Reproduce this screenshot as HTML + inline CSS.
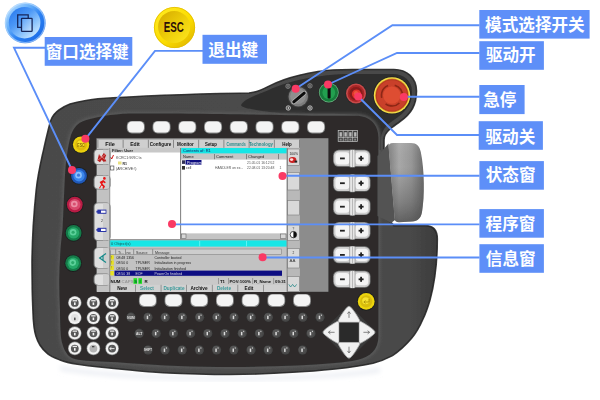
<!DOCTYPE html>
<html><head><meta charset="utf-8"><title>KCP</title>
<style>
html,body{margin:0;padding:0;background:#fff;}
body{width:600px;height:400px;overflow:hidden;font-family:"Liberation Sans",sans-serif;}
svg{display:block;position:absolute;left:0;top:0;}
svg text{font-family:"Liberation Sans",sans-serif;}
svg text.cjk{font-family:"Liberation Sans","Noto Sans CJK SC",sans-serif;font-weight:bold;}
</style></head><body>
<svg width="600" height="400" viewBox="0 0 600 400">
<defs>
<linearGradient id="bodyg" x1="0" y1="0" x2="1" y2="0">
 <stop offset="0" stop-color="#404040"/><stop offset="0.025" stop-color="#4a4a4a"/><stop offset="0.5" stop-color="#4b4b4b"/><stop offset="0.93" stop-color="#494949"/><stop offset="1" stop-color="#3c3c3c"/>
</linearGradient>
<linearGradient id="mouseg" x1="0" y1="0" x2="1" y2="0">
 <stop offset="0" stop-color="#808080"/><stop offset="0.3" stop-color="#a8a8a8"/><stop offset="0.65" stop-color="#979797"/><stop offset="1" stop-color="#6a6a6a"/>
</linearGradient>
<radialGradient id="blueic" cx="0.5" cy="0.55" r="0.55">
 <stop offset="0" stop-color="#bfe2ff"/><stop offset="0.55" stop-color="#6fb4f6"/><stop offset="0.8" stop-color="#2f86ee"/><stop offset="1" stop-color="#1c6fe0"/>
</radialGradient>
<linearGradient id="goldo" x1="0.15" y1="0.1" x2="0.85" y2="0.9">
 <stop offset="0" stop-color="#ffe81c"/><stop offset="0.6" stop-color="#fbdc00"/><stop offset="1" stop-color="#e4bc00"/>
</linearGradient>
<linearGradient id="goldi" x1="0" y1="0" x2="1" y2="1">
 <stop offset="0" stop-color="#d4a800"/><stop offset="0.5" stop-color="#eccc08"/><stop offset="1" stop-color="#ffe820"/>
</linearGradient>
<radialGradient id="keyw" cx="0.5" cy="0.4" r="0.7">
 <stop offset="0" stop-color="#ffffff"/><stop offset="0.7" stop-color="#efefef"/><stop offset="1" stop-color="#bdbdbd"/>
</radialGradient>
<linearGradient id="mousesh" x1="0" y1="0" x2="0" y2="1"><stop offset="0" stop-color="#fff" stop-opacity="0.06"/><stop offset="0.3" stop-color="#555" stop-opacity="0"/><stop offset="0.75" stop-color="#4a4a4a" stop-opacity="0.4"/><stop offset="1" stop-color="#444" stop-opacity="0.7"/></linearGradient>
<filter id="blur1b" x="-5%" y="-5%" width="110%" height="110%"><feGaussianBlur stdDeviation="1.6"/></filter>
<linearGradient id="bic1" x1="0.1" y1="0.1" x2="0.9" y2="0.9"><stop offset="0" stop-color="#b4dcff"/><stop offset="0.3" stop-color="#6ab2fa"/><stop offset="0.6" stop-color="#2a80f2"/><stop offset="1" stop-color="#1c6ae6"/></linearGradient>
<linearGradient id="bic2" x1="0.15" y1="0.1" x2="0.85" y2="0.9"><stop offset="0" stop-color="#2f7ff0"/><stop offset="0.35" stop-color="#4c98f6"/><stop offset="0.7" stop-color="#8cc4fc"/><stop offset="1" stop-color="#c8e6ff"/></linearGradient>
<linearGradient id="bic3" x1="0" y1="0" x2="1" y2="1"><stop offset="0" stop-color="#5aa2f8"/><stop offset="1" stop-color="#c4e2ff"/></linearGradient>
<filter id="soft" x="0" y="0" width="600" height="400" filterUnits="userSpaceOnUse"><feGaussianBlur stdDeviation="0.45"/></filter>
<filter id="blur1"><feGaussianBlur stdDeviation="0.6"/></filter>
<filter id="blur2"><feGaussianBlur stdDeviation="2.5"/></filter>
</defs>
<g filter="url(#soft)">
<path d="M60,366 C120,378 300,382 380,368 L380,372 C300,385 120,382 60,370 Z" fill="#e9ecf2" filter="url(#blur2)"/>
<path d="M32,262 C32.2,242 33.5,216 36.2,190 C37.5,178 39.5,168 42.4,155 C44,148 45.5,141 47,135 C48.5,129 49.5,124 51,120 C53,115 55.5,112.5 59,110 C62.5,107.5 66,105.5 70,104 C75,102.5 80,101.5 86,100.5 C90,99.8 94,99.2 98,98.8 C140,95.8 190,94 240,93.2 L249,93 C256,92.4 262,89.8 268,86.6 C274,83.6 279,81.6 284,79.8 C294,76.2 305,73.6 318,71.5 C330,69.5 340,69.5 352,69.5 L394,69.5 C407,69.5 416.5,78 416.5,91 C416.5,99 415,104 412.5,108.5 C409.5,114 405,118 400,121.5 C396,124.5 392,127 389.5,129.5 C385.5,133 384,136 384,140 L384,218 L391,222.4 L394,225.6 L425,225.6 C433,225.6 437.3,230 437.3,239 C437.3,257 436,278 430,300 C427,310 425,315 423,319 C420,326 416,333 411.6,338.3 C405,346 398,352 392.5,355.6 C386,359 380,361.5 373,363.2 C360,366 348,367.5 335,369 C320,370.5 308,371.5 297,372 C275,373.5 252,374.5 230,374.5 C205,374.5 185,373.8 163,372.7 C150,372 140,371 130,370 C118,369 108,368 97,366.8 C90,366 84,365.2 77.5,364.3 C71,363.3 65,362 60,360 C55,358 51,356.5 47.8,353.8 C44.5,351 42,348.5 39.9,345 C38,342 37,339.5 35.9,336 C35,333 34.5,330.5 34.1,327.5 C33.3,321 33,316 32.9,310 C32.5,300 32.2,293 32.2,285 C32.1,277 32,270 32,262 Z" fill="url(#bodyg)"/>
<path d="M32,262 C32.2,242 33.5,216 36.2,190 C37.5,178 39.5,168 42.4,155 C44,148 45.5,141 47,135 C48.5,129 49.5,124 51,120 C53,115 55.5,112.5 59,110 C62.5,107.5 66,105.5 70,104 C75,102.5 80,101.5 86,100.5 C90,99.8 94,99.2 98,98.8 C140,95.8 190,94 240,93.2 L249,93 C256,92.4 262,89.8 268,86.6 C274,83.6 279,81.6 284,79.8 C294,76.2 305,73.6 318,71.5 C330,69.5 340,69.5 352,69.5 L394,69.5 C407,69.5 416.5,78 416.5,91 C416.5,99 415,104 412.5,108.5 C409.5,114 405,118 400,121.5 C396,124.5 392,127 389.5,129.5 C385.5,133 384,136 384,140 L384,218 L391,222.4 L394,225.6 L425,225.6 C433,225.6 437.3,230 437.3,239 C437.3,257 436,278 430,300 C427,310 425,315 423,319 C420,326 416,333 411.6,338.3 C405,346 398,352 392.5,355.6 C386,359 380,361.5 373,363.2 C360,366 348,367.5 335,369 C320,370.5 308,371.5 297,372 C275,373.5 252,374.5 230,374.5 C205,374.5 185,373.8 163,372.7 C150,372 140,371 130,370 C118,369 108,368 97,366.8 C90,366 84,365.2 77.5,364.3 C71,363.3 65,362 60,360 C55,358 51,356.5 47.8,353.8 C44.5,351 42,348.5 39.9,345 C38,342 37,339.5 35.9,336 C35,333 34.5,330.5 34.1,327.5 C33.3,321 33,316 32.9,310 C32.5,300 32.2,293 32.2,285 C32.1,277 32,270 32,262 Z" fill="none" stroke="#262626" stroke-width="1.6" opacity="0.9"/>
<path d="M241,105.3 C242,102.5 246,99.5 255,95.6 C260,93.4 264,91.8 268.3,90.2 C273,88 277,86.4 281.7,84.8 C292,81 304,78.4 318,76.5 C330,74.5 340,74 352,74 L393,74 C404,74 412,81 412,91 C412,98 411,102 409,105.5 C406,110.5 402,114 398,117 C394,120 390,122.5 387,125.5 C383,129.5 381,134 381,140 L381,150 L379,150 C379,132 372,120 352,114.8 C340,113.6 330,113.8 320,113.8 C306,113.8 294,113.8 282,113.2 C276,112.8 272,112.4 268,111.8 C262,111 258,110.4 255,109.8 C248,108.6 242,107.6 241,105.3 Z" fill="#2f2f2f"/>
<path d="M59.2,280 C59.5,262 60.5,245 62.5,230 C63.3,215 64,195 65,175 C65.5,168 66,161 67,155 C68,148 69.2,141 71,135 C72.5,130.5 74.5,127.5 77,125 C80.5,121.8 85,120 90,119 C96,117.5 102,116.4 105,115.8 C112,114.8 120,114 130,113.6 C170,113.2 210,113.8 240,114.3 C270,114.8 300,115.4 320,115.8 L356,115.8 C370,115.8 378.4,124.6 378.4,137.6 L378.4,336 C378.4,350 370,357 358,359.8 C350,361.5 343,362.4 335,363 C322,364.2 310,365 297,365.5 C275,366.5 252,367 230,367 C195,367 160,365.6 130,363.2 C112,362 98,361.4 86.3,360.8 C80,360.2 75.5,359.6 72,358 C69.6,356.8 68,355.4 67,353.8 C64.8,350.8 63.6,348 62.7,345 C61.6,341.6 61.2,339 60.9,336 C60.2,327 60,318 60,310 C59.5,300 59.2,290 59.2,280 Z" fill="none" stroke="#585858" stroke-width="4" filter="url(#blur1b)"/>
<path d="M59.2,280 C59.5,262 60.5,245 62.5,230 C63.3,215 64,195 65,175 C65.5,168 66,161 67,155 C68,148 69.2,141 71,135 C72.5,130.5 74.5,127.5 77,125 C80.5,121.8 85,120 90,119 C96,117.5 102,116.4 105,115.8 C112,114.8 120,114 130,113.6 C170,113.2 210,113.8 240,114.3 C270,114.8 300,115.4 320,115.8 L356,115.8 C370,115.8 378.4,124.6 378.4,137.6 L378.4,336 C378.4,350 370,357 358,359.8 C350,361.5 343,362.4 335,363 C322,364.2 310,365 297,365.5 C275,366.5 252,367 230,367 C195,367 160,365.6 130,363.2 C112,362 98,361.4 86.3,360.8 C80,360.2 75.5,359.6 72,358 C69.6,356.8 68,355.4 67,353.8 C64.8,350.8 63.6,348 62.7,345 C61.6,341.6 61.2,339 60.9,336 C60.2,327 60,318 60,310 C59.5,300 59.2,290 59.2,280 Z" fill="#2d2c2c"/>
<path d="M377.5,156 L388.5,143.5 L395,220 L391,223 L377.5,216 Z" fill="#525252"/>
<path d="M388.5,147 C388.5,144.5 390,143 393,143 L411,143 C416.5,143 419.5,146 420.8,152 C424.5,170 424.8,196 422,212 C421,218 418,221 412,221.6 L399,222.2 C396,222.2 394.9,221 394.6,218.5 Z" fill="url(#mouseg)"/>
<path d="M388.5,147 C388.5,144.5 390,143 393,143 L411,143 C416.5,143 419.5,146 420.8,152 C424.5,170 424.8,196 422,212 C421,218 418,221 412,221.6 L399,222.2 C396,222.2 394.9,221 394.6,218.5 Z" fill="url(#mousesh)"/>
<rect x="96.4" y="138.2" width="232" height="153.6" fill="#8c8c8c"/>
<rect x="97" y="139.5" width="202.5" height="152.5" fill="#c4c4c4"/>
<rect x="97.4" y="148" width="12" height="144" fill="#c2c2c2"/>
<rect x="97" y="139.8" width="202.5" height="8" fill="#cfcfcf"/>
<rect x="97.5" y="139.8" width="0.8" height="8" fill="#777"/>
<rect x="122.7" y="139.8" width="0.8" height="8" fill="#777"/>
<rect x="147.9" y="139.8" width="0.8" height="8" fill="#777"/>
<rect x="173.1" y="139.8" width="0.8" height="8" fill="#777"/>
<rect x="198.3" y="139.8" width="0.8" height="8" fill="#777"/>
<rect x="223.5" y="139.8" width="0.8" height="8" fill="#777"/>
<rect x="248.7" y="139.8" width="0.8" height="8" fill="#777"/>
<rect x="273.9" y="139.8" width="0.8" height="8" fill="#777"/>
<rect x="299.1" y="139.8" width="0.8" height="8" fill="#777"/>
<text x="110" y="146.3" font-size="5.3" font-weight="bold" fill="#111" text-anchor="middle" textLength="9.6" lengthAdjust="spacingAndGlyphs">File</text>
<text x="135" y="146.3" font-size="5.3" font-weight="bold" fill="#111" text-anchor="middle" textLength="9.6" lengthAdjust="spacingAndGlyphs">Edit</text>
<text x="160.5" y="146.3" font-size="5.3" font-weight="bold" fill="#111" text-anchor="middle" textLength="21.6" lengthAdjust="spacingAndGlyphs">Configure</text>
<text x="185.5" y="146.3" font-size="5.3" font-weight="bold" fill="#111" text-anchor="middle" textLength="16.8" lengthAdjust="spacingAndGlyphs">Monitor</text>
<text x="211" y="146.3" font-size="5.3" font-weight="bold" fill="#111" text-anchor="middle" textLength="12.0" lengthAdjust="spacingAndGlyphs">Setup</text>
<text x="236" y="146.3" font-size="5.3" font-weight="bold" fill="#2a8a8a" text-anchor="middle" textLength="19.2" lengthAdjust="spacingAndGlyphs">Commands</text>
<text x="261" y="146.3" font-size="5.3" font-weight="bold" fill="#2a8a8a" text-anchor="middle" textLength="24.0" lengthAdjust="spacingAndGlyphs">Technology</text>
<text x="287" y="146.3" font-size="5.3" font-weight="bold" fill="#111" text-anchor="middle" textLength="9.6" lengthAdjust="spacingAndGlyphs">Help</text>
<rect x="109.5" y="148" width="71" height="4.5" fill="#c8c8c8"/>
<text x="112" y="151.8" font-size="4" fill="#222" font-weight="bold">Filter: User</text>
<rect x="109.5" y="152.5" width="71" height="86.5" fill="#ffffff"/>
<rect x="180.3" y="148" width="0.9" height="91" fill="#666"/>
<rect x="181.2" y="148" width="105.5" height="5.6" fill="#19e6e6"/>
<text x="183" y="152.3" font-size="4" fill="#126" >Contents of: R1</text>
<rect x="181.2" y="153.6" width="105.5" height="6" fill="#c6c6c6"/>
<rect x="214" y="154" width="0.7" height="5.4" fill="#666"/>
<rect x="246" y="154" width="0.7" height="5.4" fill="#666"/>
<rect x="278" y="154" width="0.7" height="5.4" fill="#666"/>
<text x="183" y="158.4" font-size="4" fill="#222">Name</text><text x="216" y="158.4" font-size="4" fill="#222">Comment</text><text x="248" y="158.4" font-size="4" fill="#222">Changed</text>
<rect x="181.2" y="159.6" width="105.5" height="74" fill="#ffffff"/>
<rect x="185.5" y="160" width="16" height="4.6" fill="#101080"/>
<text x="187" y="163.8" font-size="3.8" fill="#fff">Program</text>
<rect x="182" y="160.3" width="3" height="3.6" fill="#335"/>
<rect x="182" y="166" width="3" height="3.6" fill="#333"/>
<text x="186" y="169.3" font-size="3.6" fill="#333">cell</text>
<text x="215" y="169.3" font-size="3.4" fill="#555">HANDLER on ex...</text>
<text x="247" y="163.8" font-size="3.4" fill="#555">21.05.01 16:12:52</text>
<text x="247" y="169.3" font-size="3.4" fill="#555">22.08.01 13:20:48</text>
<text x="279.5" y="169.3" font-size="3.4" fill="#555">1</text>
<path d="M110.5,157 l1.2,2 l1.8,-4" stroke="#c00" stroke-width="0.9" fill="none"/>
<text x="116" y="159.3" font-size="3.6" fill="#444">KCRC1:\KRC:\s</text>
<rect x="118" y="161.5" width="3.5" height="3" fill="#e8e080"/><text x="122.5" y="164.6" font-size="3.6" fill="#333" font-weight="bold">R1</text>
<rect x="110.5" y="166" width="3.4" height="4" fill="#fff" stroke="#333" stroke-width="0.6"/>
<text x="116" y="169.8" font-size="3.6" fill="#444">(ARCHIVE:\)</text>
<rect x="181.2" y="233.6" width="105.5" height="5.4" fill="#c4c4c4"/>
<rect x="181.5" y="234" width="4.5" height="4.6" fill="#d8d8d8" stroke="#555" stroke-width="0.5"/>
<rect x="280.5" y="234" width="5.5" height="4.6" fill="#d8d8d8" stroke="#555" stroke-width="0.5"/>
<rect x="109.5" y="239" width="177.2" height="1.4" fill="#999"/>
<rect x="109.5" y="240.4" width="177.2" height="6.4" fill="#19e6e6"/>
<text x="111" y="245.4" font-size="4" fill="#155">0 Object(s)</text>
<rect x="199.5" y="241" width="0.6" height="5.4" fill="#8ff"/><rect x="246" y="241" width="0.6" height="5.4" fill="#8ff"/>
<rect x="109.5" y="246.8" width="177.2" height="30.4" fill="#c2c2c2"/>
<rect x="109.5" y="249" width="172" height="5.6" fill="#cdcdcd" stroke="#777" stroke-width="0.5"/>
<rect x="115.5" y="249.2" width="0.6" height="5.2" fill="#666"/>
<rect x="125" y="249.2" width="0.6" height="5.2" fill="#666"/>
<rect x="133.5" y="249.2" width="0.6" height="5.2" fill="#666"/>
<rect x="152.5" y="249.2" width="0.6" height="5.2" fill="#666"/>
<text x="118" y="253.6" font-size="3.6" fill="#333">Ti...</text><text x="126.5" y="253.6" font-size="3.6" fill="#333">no</text><text x="136" y="253.6" font-size="3.6" fill="#333">Source</text><text x="155" y="253.6" font-size="3.6" fill="#333">Message</text>
<rect x="110.2" y="255.2" width="3.6" height="4.4" fill="#e8e020"/><text x="111" y="258.8" font-size="3.4" fill="#660">!</text>
<text x="116.5" y="259.2" font-size="3.5" fill="#222">08:48 1356</text><text x="135.5" y="259.2" font-size="3.5" fill="#222"></text><text x="154.5" y="259.2" font-size="3.5" fill="#222">Controller booted</text>
<rect x="110.2" y="260.4" width="3.6" height="4.4" fill="#e8e020"/><text x="111" y="264.0" font-size="3.4" fill="#660">!</text>
<text x="116.5" y="264.4" font-size="3.5" fill="#222">08:50 0</text><text x="135.5" y="264.4" font-size="3.5" fill="#222">TPUSER</text><text x="154.5" y="264.4" font-size="3.5" fill="#222">Initialization in progress</text>
<rect x="110.2" y="265.6" width="3.6" height="4.4" fill="#e8e020"/><text x="111" y="269.20000000000005" font-size="3.4" fill="#660">!</text>
<text x="116.5" y="269.6" font-size="3.5" fill="#222">08:50 0</text><text x="135.5" y="269.6" font-size="3.5" fill="#222">TPUSER</text><text x="154.5" y="269.6" font-size="3.5" fill="#222">Initialization finished</text>
<rect x="114.5" y="270.6" width="167.5" height="5.2" fill="#0a0a82"/>
<rect x="110.2" y="271" width="3.6" height="4.4" fill="#e8e020"/>
<text x="116.5" y="274.8" font-size="3.5" fill="#ddd">08:50 38</text><text x="135.5" y="274.8" font-size="3.5" fill="#ddd">EOF</text><text x="154.5" y="274.8" font-size="3.5" fill="#ddd">PowerOn finished</text>
<rect x="109.5" y="277.4" width="177.2" height="7.2" fill="#c9c9c9"/>
<text x="110.5" y="283" font-size="4.4" font-weight="bold" fill="#111">NUM</text><text x="121.5" y="283" font-size="4.4" fill="#999" font-weight="bold">CAPS</text>
<rect x="133.5" y="278.2" width="3.6" height="5.6" fill="#20e020"/><rect x="138.4" y="278.2" width="3.6" height="5.6" fill="#20e020"/>
<text x="134.2" y="283" font-size="4.2" fill="#063" font-weight="bold">S</text><text x="139.6" y="283" font-size="4.2" fill="#063" font-weight="bold">I</text><text x="144.5" y="283" font-size="4.4" fill="#111" font-weight="bold">R</text>
<text x="220" y="283" font-size="4.3" fill="#111" font-weight="bold">T1</text><text x="229.5" y="283" font-size="4.3" fill="#111" font-weight="bold">POV:100%</text><text x="254" y="283" font-size="4.3" fill="#111" font-weight="bold">R_Name</text><text x="275" y="283" font-size="4.3" fill="#111" font-weight="bold">09:31</text>
<rect x="218" y="278" width="0.6" height="6" fill="#777"/>
<rect x="228" y="278" width="0.6" height="6" fill="#777"/>
<rect x="252.5" y="278" width="0.6" height="6" fill="#777"/>
<rect x="273.5" y="278" width="0.6" height="6" fill="#777"/>
<rect x="109.5" y="284.6" width="177.2" height="7.4" fill="#d0d0d0"/>
<rect x="109.5" y="284.8" width="0.7" height="7" fill="#777"/>
<rect x="135.1" y="284.8" width="0.7" height="7" fill="#777"/>
<rect x="160.7" y="284.8" width="0.7" height="7" fill="#777"/>
<rect x="186.3" y="284.8" width="0.7" height="7" fill="#777"/>
<rect x="211.9" y="284.8" width="0.7" height="7" fill="#777"/>
<rect x="237.5" y="284.8" width="0.7" height="7" fill="#777"/>
<rect x="263.1" y="284.8" width="0.7" height="7" fill="#777"/>
<rect x="288.7" y="284.8" width="0.7" height="7" fill="#777"/>
<text x="122" y="290.4" font-size="4.7" font-weight="bold" fill="#111" text-anchor="middle">New</text>
<text x="147" y="290.4" font-size="4.7" font-weight="bold" fill="#3a9a9a" text-anchor="middle">Select</text>
<text x="174" y="290.4" font-size="4.7" font-weight="bold" fill="#3a9a9a" text-anchor="middle">Duplicate</text>
<text x="199" y="290.4" font-size="4.7" font-weight="bold" fill="#111" text-anchor="middle">Archive</text>
<text x="224" y="290.4" font-size="4.7" font-weight="bold" fill="#3a9a9a" text-anchor="middle">Delete</text>
<text x="249" y="290.4" font-size="4.7" font-weight="bold" fill="#111" text-anchor="middle">Edit</text>
<rect x="287" y="148" width="12.8" height="144" fill="#b9b9b9"/>
<rect x="287.6" y="149" width="11.8" height="16.4" fill="#d9d9d9" stroke="#7d7d7d" stroke-width="0.6"/>
<rect x="287.6" y="172.5" width="11.8" height="17.5" fill="#d9d9d9" stroke="#7d7d7d" stroke-width="0.6"/>
<rect x="287.6" y="200.6" width="11.8" height="14.4" fill="#d9d9d9" stroke="#7d7d7d" stroke-width="0.6"/>
<rect x="287.6" y="225" width="11.8" height="15.6" fill="#d9d9d9" stroke="#7d7d7d" stroke-width="0.6"/>
<rect x="287.6" y="248.6" width="11.8" height="19.4" fill="#d9d9d9" stroke="#7d7d7d" stroke-width="0.6"/>
<rect x="287.6" y="276.6" width="11.8" height="14.8" fill="#d9d9d9" stroke="#7d7d7d" stroke-width="0.6"/>
<rect x="286.7" y="148" width="0.8" height="144" fill="#777"/>
<text x="289.4" y="154.8" font-size="3.4" fill="#222">100%</text>
<ellipse cx="292.6" cy="160" rx="3.8" ry="3" fill="#c22"/><ellipse cx="291.6" cy="159.6" rx="1.7" ry="1.3" fill="#fdd"/><rect x="294.6" y="160.6" width="2.6" height="2" fill="#222"/>
<circle cx="293.4" cy="234.6" r="3.2" fill="#fff" stroke="#111" stroke-width="0.7"/><path d="M293.4,231.4 a3.2,3.2 0 0 1 0,6.4 Z" fill="#111"/>
<text x="292.4" y="229.6" font-size="3.2" fill="#333">?</text>
<text x="292.4" y="254.4" font-size="3.2" fill="#333">2</text>
<text x="289.6" y="262" font-size="4.4" fill="#333">AA</text>
<path d="M288.8,284.4 l1.8,2.6 l2,-2.6 l2,2.6 l2,-2.6" stroke="#2a8a8a" stroke-width="0.8" fill="none"/>
<rect x="93.6" y="149" width="17" height="16" rx="4.2" fill="#7a7a7a"/>
<rect x="94.6" y="149.7" width="15" height="14.6" rx="3.8" fill="#dedede"/>
<rect x="103" y="149.7" width="6.4" height="14.6" fill="#cdcdcd"/>
<rect x="93.6" y="175" width="17" height="14.4" rx="4.2" fill="#7a7a7a"/>
<rect x="94.6" y="175.7" width="15" height="13.0" rx="3.8" fill="#dedede"/>
<rect x="103" y="175.7" width="6.4" height="13.0" fill="#cdcdcd"/>
<rect x="93.6" y="202.6" width="17" height="38.4" rx="4.2" fill="#7a7a7a"/>
<rect x="94.6" y="203.29999999999998" width="15" height="37.0" rx="3.8" fill="#dedede"/>
<rect x="103" y="203.29999999999998" width="6.4" height="37.0" fill="#cdcdcd"/>
<rect x="93.6" y="247.4" width="17" height="21.2" rx="4.2" fill="#7a7a7a"/>
<rect x="94.6" y="248.1" width="15" height="19.8" rx="3.8" fill="#dedede"/>
<rect x="103" y="248.1" width="6.4" height="19.8" fill="#cdcdcd"/>
<rect x="93.6" y="273.6" width="17" height="12" rx="4.2" fill="#7a7a7a"/>
<rect x="94.6" y="274.3" width="15" height="10.6" rx="3.8" fill="#dedede"/>
<rect x="103" y="274.3" width="6.4" height="10.6" fill="#cdcdcd"/>
<rect x="109.3" y="148" width="0.9" height="144" fill="#8a8a8a"/>
<path d="M97.4,160.5 l1.6,-6.5 l2.2,3 l2.6,-4 l2.4,2 l-1.4,3.4 l1.6,2.8 l-3,0.6 l-1.6,-2 l-1.8,2.4 z" fill="#b81c1c"/>
<path d="M98,160 l8,-6 M99,154.5 l6,5" stroke="#e8b0b0" stroke-width="0.6"/>
<path d="M99,188 l2.2,-3.4 l-1.6,-2.6 l3.6,-2 l2.6,2.2 l-1,1 l-1.6,-1 l-0.8,1.6 l2.6,2.4 l-1.2,2.6 l-1.4,-0.6 l0.6,-1.8 l-1.6,-1 l-1.4,3.2 z" fill="#e81414"/><circle cx="104.4" cy="178.4" r="1.3" fill="#e81414"/>
<rect x="97.4" y="209.6" width="9" height="4.2" fill="#2a34a8"/><rect x="101" y="210.6" width="4.6" height="2.2" fill="#fff"/><rect x="96.4" y="210.8" width="1.6" height="1.8" fill="#2a34a8"/>
<rect x="97.4" y="227.8" width="9" height="4.2" fill="#2a34a8"/><rect x="101" y="228.8" width="4.6" height="2.2" fill="#fff"/><rect x="96.4" y="229" width="1.6" height="1.8" fill="#2a34a8"/>
<text x="101" y="222" font-size="3.6" fill="#333">2</text>
<path d="M106,253.4 l-6.4,4.6 l6.4,4.6 M103,256 v4" stroke="#168a8a" stroke-width="1.2" fill="none"/>
<rect x="126.80" y="120.90" width="18.0" height="12.6" rx="5" fill="#8a8a8a"/><rect x="127.60" y="121.50" width="16.4" height="11" rx="4.5" fill="#f4f4f4"/>
<rect x="152.55" y="120.90" width="18.0" height="12.6" rx="5" fill="#8a8a8a"/><rect x="153.35" y="121.50" width="16.4" height="11" rx="4.5" fill="#f4f4f4"/>
<rect x="178.30" y="120.90" width="18.0" height="12.6" rx="5" fill="#8a8a8a"/><rect x="179.10" y="121.50" width="16.4" height="11" rx="4.5" fill="#f4f4f4"/>
<rect x="204.05" y="120.90" width="18.0" height="12.6" rx="5" fill="#8a8a8a"/><rect x="204.85" y="121.50" width="16.4" height="11" rx="4.5" fill="#f4f4f4"/>
<rect x="229.80" y="120.90" width="18.0" height="12.6" rx="5" fill="#8a8a8a"/><rect x="230.60" y="121.50" width="16.4" height="11" rx="4.5" fill="#f4f4f4"/>
<rect x="255.55" y="120.90" width="18.0" height="12.6" rx="5" fill="#8a8a8a"/><rect x="256.35" y="121.50" width="16.4" height="11" rx="4.5" fill="#f4f4f4"/>
<rect x="281.30" y="120.90" width="18.0" height="12.6" rx="5" fill="#8a8a8a"/><rect x="282.10" y="121.50" width="16.4" height="11" rx="4.5" fill="#f4f4f4"/>
<rect x="307.05" y="120.90" width="18.0" height="12.6" rx="5" fill="#8a8a8a"/><rect x="307.85" y="121.50" width="16.4" height="11" rx="4.5" fill="#f4f4f4"/>
<rect x="138.90" y="293.90" width="17.8" height="13.0" rx="5" fill="#8a8a8a"/><rect x="139.70" y="294.50" width="16.2" height="11.4" rx="4.5" fill="#f4f4f4"/>
<rect x="164.60" y="293.90" width="17.8" height="13.0" rx="5" fill="#8a8a8a"/><rect x="165.40" y="294.50" width="16.2" height="11.4" rx="4.5" fill="#f4f4f4"/>
<rect x="190.30" y="293.90" width="17.8" height="13.0" rx="5" fill="#8a8a8a"/><rect x="191.10" y="294.50" width="16.2" height="11.4" rx="4.5" fill="#f4f4f4"/>
<rect x="216.00" y="293.90" width="17.8" height="13.0" rx="5" fill="#8a8a8a"/><rect x="216.80" y="294.50" width="16.2" height="11.4" rx="4.5" fill="#f4f4f4"/>
<rect x="241.70" y="293.90" width="17.8" height="13.0" rx="5" fill="#8a8a8a"/><rect x="242.50" y="294.50" width="16.2" height="11.4" rx="4.5" fill="#f4f4f4"/>
<rect x="267.40" y="293.90" width="17.8" height="13.0" rx="5" fill="#8a8a8a"/><rect x="268.20" y="294.50" width="16.2" height="11.4" rx="4.5" fill="#f4f4f4"/>
<rect x="293.10" y="293.90" width="17.8" height="13.0" rx="5" fill="#8a8a8a"/><rect x="293.90" y="294.50" width="16.2" height="11.4" rx="4.5" fill="#f4f4f4"/>
<circle cx="81.1" cy="144.6" r="9.1" fill="#1f1f1f"/><circle cx="81.1" cy="144.6" r="8.2" fill="#ecd010"/><circle cx="81.1" cy="144.6" r="5.90" fill="#dcb80c"/><circle cx="80.61" cy="143.94" r="3.44" fill="#f4e028"/>
<text x="81" y="146.7" font-size="6" fill="#8a6a00" text-anchor="middle" font-weight="bold" textLength="7.4" lengthAdjust="spacingAndGlyphs">ESC</text>
<circle cx="79" cy="175.8" r="8.8" fill="#1f1f1f"/><circle cx="79" cy="175.8" r="7.9" fill="#2058b8"/><circle cx="79" cy="175.8" r="5.69" fill="#3a86ea"/><circle cx="78.53" cy="175.17" r="3.32" fill="#8cc0fa"/><circle cx="78.53" cy="175.17" r="1.58" fill="#3a7ae0"/>
<circle cx="74.8" cy="204.6" r="8.8" fill="#1f1f1f"/><circle cx="74.8" cy="204.6" r="7.9" fill="#b81c44"/><circle cx="74.8" cy="204.6" r="5.69" fill="#d84a6c"/><circle cx="74.33" cy="203.97" r="3.32" fill="#ec8ea4"/><circle cx="74.33" cy="203.97" r="1.58" fill="#d85070"/>
<circle cx="73.6" cy="232.9" r="8.8" fill="#1f1f1f"/><circle cx="73.6" cy="232.9" r="7.9" fill="#127a48"/><circle cx="73.6" cy="232.9" r="5.69" fill="#26a868"/><circle cx="73.13" cy="232.27" r="3.32" fill="#5cd09a"/><circle cx="73.13" cy="232.27" r="1.58" fill="#2aa86a"/>
<circle cx="73.2" cy="263.2" r="8.8" fill="#1f1f1f"/><circle cx="73.2" cy="263.2" r="7.9" fill="#127a48"/><circle cx="73.2" cy="263.2" r="5.69" fill="#26a868"/><circle cx="72.73" cy="262.57" r="3.32" fill="#5cd09a"/><circle cx="72.73" cy="262.57" r="1.58" fill="#2aa86a"/>
<circle cx="74.8" cy="302.7" r="6.8" fill="#8a8a8a"/><circle cx="74.8" cy="302.7" r="6.2" fill="#f2f2f2"/><circle cx="74.8" cy="302.9" r="3.9" fill="#585858"/><rect x="72.6" y="300.1" width="4.4" height="1.3" fill="#e8e8e8"/><rect x="74.0" y="302.4" width="1.6" height="2.6" fill="#f6f6f6"/>
<circle cx="93.4" cy="302.7" r="6.8" fill="#8a8a8a"/><circle cx="93.4" cy="302.7" r="6.2" fill="#f2f2f2"/><circle cx="93.4" cy="302.9" r="3.9" fill="#585858"/><rect x="91.2" y="300.1" width="4.4" height="1.3" fill="#e8e8e8"/><rect x="92.6" y="302.4" width="1.6" height="2.6" fill="#f6f6f6"/>
<circle cx="112.1" cy="302.7" r="6.8" fill="#8a8a8a"/><circle cx="112.1" cy="302.7" r="6.2" fill="#f2f2f2"/><circle cx="112.1" cy="302.9" r="3.9" fill="#585858"/><rect x="109.9" y="300.1" width="4.4" height="1.3" fill="#e8e8e8"/><rect x="111.3" y="302.4" width="1.6" height="2.6" fill="#f6f6f6"/>
<circle cx="74.8" cy="317.8" r="6.8" fill="#8a8a8a"/><circle cx="74.8" cy="317.8" r="6.2" fill="#f2f2f2"/><circle cx="74.8" cy="318.0" r="3.9" fill="#e2e2e2"/><rect x="74.0" y="317.6" width="1.6" height="2.6" fill="#555"/>
<circle cx="93.4" cy="317.8" r="6.8" fill="#8a8a8a"/><circle cx="93.4" cy="317.8" r="6.2" fill="#f2f2f2"/><circle cx="93.4" cy="318.0" r="3.9" fill="#585858"/><rect x="91.2" y="315.2" width="4.4" height="1.3" fill="#e8e8e8"/><rect x="92.6" y="317.5" width="1.6" height="2.6" fill="#f6f6f6"/>
<circle cx="112.1" cy="317.8" r="6.8" fill="#8a8a8a"/><circle cx="112.1" cy="317.8" r="6.2" fill="#f2f2f2"/><circle cx="112.1" cy="318.0" r="3.9" fill="#585858"/><rect x="109.9" y="315.2" width="4.4" height="1.3" fill="#e8e8e8"/><rect x="111.3" y="317.5" width="1.6" height="2.6" fill="#f6f6f6"/>
<circle cx="74.8" cy="333.1" r="6.8" fill="#8a8a8a"/><circle cx="74.8" cy="333.1" r="6.2" fill="#f2f2f2"/><circle cx="74.8" cy="333.3" r="3.9" fill="#585858"/><rect x="72.6" y="330.5" width="4.4" height="1.3" fill="#e8e8e8"/><rect x="74.0" y="332.8" width="1.6" height="2.6" fill="#f6f6f6"/>
<circle cx="93.4" cy="333.1" r="6.8" fill="#8a8a8a"/><circle cx="93.4" cy="333.1" r="6.2" fill="#f2f2f2"/><circle cx="93.4" cy="333.3" r="3.9" fill="#585858"/><rect x="91.2" y="330.5" width="4.4" height="1.3" fill="#e8e8e8"/><rect x="92.6" y="332.8" width="1.6" height="2.6" fill="#f6f6f6"/>
<circle cx="112.1" cy="333.1" r="6.8" fill="#8a8a8a"/><circle cx="112.1" cy="333.1" r="6.2" fill="#f2f2f2"/><circle cx="112.1" cy="333.3" r="3.9" fill="#585858"/><rect x="109.9" y="330.5" width="4.4" height="1.3" fill="#e8e8e8"/><rect x="111.3" y="332.8" width="1.6" height="2.6" fill="#f6f6f6"/>
<circle cx="74.8" cy="348.4" r="6.8" fill="#8a8a8a"/><circle cx="74.8" cy="348.4" r="6.2" fill="#f2f2f2"/><circle cx="74.8" cy="348.59999999999997" r="3.9" fill="#585858"/><rect x="72.6" y="345.8" width="4.4" height="1.3" fill="#e8e8e8"/><rect x="74.0" y="348.1" width="1.6" height="2.6" fill="#f6f6f6"/>
<circle cx="93.4" cy="348.4" r="6.8" fill="#8a8a8a"/><circle cx="93.4" cy="348.4" r="6.2" fill="#f2f2f2"/><circle cx="93.4" cy="348.59999999999997" r="3.9" fill="#b4b4b4"/><rect x="92.0" y="346.0" width="2.4" height="1.3" fill="#444"/>
<circle cx="112.1" cy="348.4" r="6.8" fill="#8a8a8a"/><circle cx="112.1" cy="348.4" r="6.2" fill="#f2f2f2"/><circle cx="112.1" cy="348.59999999999997" r="3.9" fill="#585858"/><path d="M114.5,348.59999999999997 H109.89999999999999 m1.5,-1.3 l-1.7,1.3 l1.7,1.3" stroke="#f4f4f4" stroke-width="0.9" fill="none"/>
<circle cx="131.0" cy="317.2" r="4.6" fill="#474747"/><circle cx="130.5" cy="316.7" r="3.4999999999999996" fill="#575757"/><circle cx="131.3" cy="317.6" r="2.6999999999999997" fill="#4e4e4e"/><text x="131" y="318.59999999999997" font-size="3.9" fill="#e6e6e6" text-anchor="middle" font-weight="bold" textLength="7.4" lengthAdjust="spacingAndGlyphs">NUM</text>
<circle cx="148.0" cy="317.2" r="4.5" fill="#474747"/><circle cx="147.5" cy="316.7" r="3.4" fill="#575757"/><circle cx="148.3" cy="317.6" r="2.6" fill="#4e4e4e"/><rect x="146.7" y="315.7" width="1.5" height="3.4" fill="#dcdcdc"/><rect x="148.9" y="314.6" width="1.1" height="1.3" fill="#c4c4c4"/>
<circle cx="165.2" cy="317.2" r="4.5" fill="#474747"/><circle cx="164.7" cy="316.7" r="3.4" fill="#575757"/><circle cx="165.5" cy="317.6" r="2.6" fill="#4e4e4e"/><rect x="163.9" y="315.7" width="1.5" height="3.4" fill="#dcdcdc"/><rect x="166.1" y="314.6" width="1.1" height="1.3" fill="#c4c4c4"/>
<circle cx="182.4" cy="317.2" r="4.5" fill="#474747"/><circle cx="181.9" cy="316.7" r="3.4" fill="#575757"/><circle cx="182.7" cy="317.6" r="2.6" fill="#4e4e4e"/><rect x="181.1" y="315.7" width="1.5" height="3.4" fill="#dcdcdc"/><rect x="183.3" y="314.6" width="1.1" height="1.3" fill="#c4c4c4"/>
<circle cx="199.6" cy="317.2" r="4.5" fill="#474747"/><circle cx="199.1" cy="316.7" r="3.4" fill="#575757"/><circle cx="199.9" cy="317.6" r="2.6" fill="#4e4e4e"/><rect x="198.3" y="315.7" width="1.5" height="3.4" fill="#dcdcdc"/><rect x="200.5" y="314.6" width="1.1" height="1.3" fill="#c4c4c4"/>
<circle cx="216.8" cy="317.2" r="4.5" fill="#474747"/><circle cx="216.3" cy="316.7" r="3.4" fill="#575757"/><circle cx="217.1" cy="317.6" r="2.6" fill="#4e4e4e"/><rect x="215.5" y="315.7" width="1.5" height="3.4" fill="#dcdcdc"/><rect x="217.7" y="314.6" width="1.1" height="1.3" fill="#c4c4c4"/>
<circle cx="234.0" cy="317.2" r="4.5" fill="#474747"/><circle cx="233.5" cy="316.7" r="3.4" fill="#575757"/><circle cx="234.3" cy="317.6" r="2.6" fill="#4e4e4e"/><rect x="232.7" y="315.7" width="1.5" height="3.4" fill="#dcdcdc"/><rect x="234.9" y="314.6" width="1.1" height="1.3" fill="#c4c4c4"/>
<circle cx="251.2" cy="317.2" r="4.5" fill="#474747"/><circle cx="250.7" cy="316.7" r="3.4" fill="#575757"/><circle cx="251.5" cy="317.6" r="2.6" fill="#4e4e4e"/><rect x="249.9" y="315.7" width="1.5" height="3.4" fill="#dcdcdc"/><rect x="252.1" y="314.6" width="1.1" height="1.3" fill="#c4c4c4"/>
<circle cx="268.4" cy="317.2" r="4.5" fill="#474747"/><circle cx="267.9" cy="316.7" r="3.4" fill="#575757"/><circle cx="268.7" cy="317.6" r="2.6" fill="#4e4e4e"/><rect x="267.1" y="315.7" width="1.5" height="3.4" fill="#dcdcdc"/><rect x="269.3" y="314.6" width="1.1" height="1.3" fill="#c4c4c4"/>
<circle cx="285.6" cy="317.2" r="4.5" fill="#474747"/><circle cx="285.1" cy="316.7" r="3.4" fill="#575757"/><circle cx="285.9" cy="317.6" r="2.6" fill="#4e4e4e"/><rect x="284.3" y="315.7" width="1.5" height="3.4" fill="#dcdcdc"/><rect x="286.5" y="314.6" width="1.1" height="1.3" fill="#c4c4c4"/>
<circle cx="302.8" cy="317.2" r="4.5" fill="#474747"/><circle cx="302.3" cy="316.7" r="3.4" fill="#575757"/><circle cx="303.1" cy="317.6" r="2.6" fill="#4e4e4e"/><rect x="301.5" y="315.7" width="1.5" height="3.4" fill="#dcdcdc"/><rect x="303.7" y="314.6" width="1.1" height="1.3" fill="#c4c4c4"/>
<circle cx="320.0" cy="317.2" r="4.5" fill="#474747"/><circle cx="319.5" cy="316.7" r="3.4" fill="#575757"/><circle cx="320.3" cy="317.6" r="2.6" fill="#4e4e4e"/><rect x="318.7" y="315.7" width="1.5" height="3.4" fill="#dcdcdc"/><rect x="320.9" y="314.6" width="1.1" height="1.3" fill="#c4c4c4"/>
<circle cx="139.2" cy="333.4" r="4.6" fill="#474747"/><circle cx="138.7" cy="332.9" r="3.4999999999999996" fill="#575757"/><circle cx="139.5" cy="333.8" r="2.6999999999999997" fill="#4e4e4e"/><text x="139.2" y="334.79999999999995" font-size="3.9" fill="#e6e6e6" text-anchor="middle" font-weight="bold" textLength="6.4" lengthAdjust="spacingAndGlyphs">ALT</text>
<circle cx="156.2" cy="333.4" r="4.5" fill="#474747"/><circle cx="155.7" cy="332.9" r="3.4" fill="#575757"/><circle cx="156.5" cy="333.8" r="2.6" fill="#4e4e4e"/><rect x="154.9" y="331.9" width="1.5" height="3.4" fill="#dcdcdc"/><rect x="157.1" y="330.8" width="1.1" height="1.3" fill="#c4c4c4"/>
<circle cx="173.4" cy="333.4" r="4.5" fill="#474747"/><circle cx="172.9" cy="332.9" r="3.4" fill="#575757"/><circle cx="173.7" cy="333.8" r="2.6" fill="#4e4e4e"/><rect x="172.1" y="331.9" width="1.5" height="3.4" fill="#dcdcdc"/><rect x="174.3" y="330.8" width="1.1" height="1.3" fill="#c4c4c4"/>
<circle cx="190.6" cy="333.4" r="4.5" fill="#474747"/><circle cx="190.1" cy="332.9" r="3.4" fill="#575757"/><circle cx="190.9" cy="333.8" r="2.6" fill="#4e4e4e"/><rect x="189.3" y="331.9" width="1.5" height="3.4" fill="#dcdcdc"/><rect x="191.5" y="330.8" width="1.1" height="1.3" fill="#c4c4c4"/>
<circle cx="207.8" cy="333.4" r="4.5" fill="#474747"/><circle cx="207.3" cy="332.9" r="3.4" fill="#575757"/><circle cx="208.1" cy="333.8" r="2.6" fill="#4e4e4e"/><rect x="206.5" y="331.9" width="1.5" height="3.4" fill="#dcdcdc"/><rect x="208.7" y="330.8" width="1.1" height="1.3" fill="#c4c4c4"/>
<circle cx="225.0" cy="333.4" r="4.5" fill="#474747"/><circle cx="224.5" cy="332.9" r="3.4" fill="#575757"/><circle cx="225.3" cy="333.8" r="2.6" fill="#4e4e4e"/><rect x="223.7" y="331.9" width="1.5" height="3.4" fill="#dcdcdc"/><rect x="225.9" y="330.8" width="1.1" height="1.3" fill="#c4c4c4"/>
<circle cx="242.2" cy="333.4" r="4.5" fill="#474747"/><circle cx="241.7" cy="332.9" r="3.4" fill="#575757"/><circle cx="242.5" cy="333.8" r="2.6" fill="#4e4e4e"/><rect x="240.9" y="331.9" width="1.5" height="3.4" fill="#dcdcdc"/><rect x="243.1" y="330.8" width="1.1" height="1.3" fill="#c4c4c4"/>
<circle cx="259.4" cy="333.4" r="4.5" fill="#474747"/><circle cx="258.9" cy="332.9" r="3.4" fill="#575757"/><circle cx="259.7" cy="333.8" r="2.6" fill="#4e4e4e"/><rect x="258.1" y="331.9" width="1.5" height="3.4" fill="#dcdcdc"/><rect x="260.3" y="330.8" width="1.1" height="1.3" fill="#c4c4c4"/>
<circle cx="276.6" cy="333.4" r="4.5" fill="#474747"/><circle cx="276.1" cy="332.9" r="3.4" fill="#575757"/><circle cx="276.9" cy="333.8" r="2.6" fill="#4e4e4e"/><rect x="275.3" y="331.9" width="1.5" height="3.4" fill="#dcdcdc"/><rect x="277.5" y="330.8" width="1.1" height="1.3" fill="#c4c4c4"/>
<circle cx="293.8" cy="333.4" r="4.5" fill="#474747"/><circle cx="293.3" cy="332.9" r="3.4" fill="#575757"/><circle cx="294.1" cy="333.8" r="2.6" fill="#4e4e4e"/><rect x="292.5" y="331.9" width="1.5" height="3.4" fill="#dcdcdc"/><rect x="294.7" y="330.8" width="1.1" height="1.3" fill="#c4c4c4"/>
<circle cx="311.0" cy="333.4" r="4.5" fill="#474747"/><circle cx="310.5" cy="332.9" r="3.4" fill="#575757"/><circle cx="311.3" cy="333.8" r="2.6" fill="#4e4e4e"/><rect x="309.7" y="331.9" width="1.5" height="3.4" fill="#dcdcdc"/><rect x="311.9" y="330.8" width="1.1" height="1.3" fill="#c4c4c4"/>
<circle cx="148.0" cy="350.0" r="4.6" fill="#474747"/><circle cx="147.5" cy="349.5" r="3.4999999999999996" fill="#575757"/><circle cx="148.3" cy="350.4" r="2.6999999999999997" fill="#4e4e4e"/><text x="148" y="351.4" font-size="3.9" fill="#e6e6e6" text-anchor="middle" font-weight="bold" textLength="8" lengthAdjust="spacingAndGlyphs">SHIFT</text>
<circle cx="165.0" cy="350.0" r="4.5" fill="#474747"/><circle cx="164.5" cy="349.5" r="3.4" fill="#575757"/><circle cx="165.3" cy="350.4" r="2.6" fill="#4e4e4e"/><rect x="163.7" y="348.5" width="1.5" height="3.4" fill="#dcdcdc"/><rect x="165.9" y="347.4" width="1.1" height="1.3" fill="#c4c4c4"/>
<circle cx="182.2" cy="350.0" r="4.5" fill="#474747"/><circle cx="181.7" cy="349.5" r="3.4" fill="#575757"/><circle cx="182.5" cy="350.4" r="2.6" fill="#4e4e4e"/><rect x="180.9" y="348.5" width="1.5" height="3.4" fill="#dcdcdc"/><rect x="183.1" y="347.4" width="1.1" height="1.3" fill="#c4c4c4"/>
<circle cx="199.4" cy="350.0" r="4.5" fill="#474747"/><circle cx="198.9" cy="349.5" r="3.4" fill="#575757"/><circle cx="199.7" cy="350.4" r="2.6" fill="#4e4e4e"/><rect x="198.1" y="348.5" width="1.5" height="3.4" fill="#dcdcdc"/><rect x="200.3" y="347.4" width="1.1" height="1.3" fill="#c4c4c4"/>
<circle cx="216.6" cy="350.0" r="4.5" fill="#474747"/><circle cx="216.1" cy="349.5" r="3.4" fill="#575757"/><circle cx="216.9" cy="350.4" r="2.6" fill="#4e4e4e"/><rect x="215.3" y="348.5" width="1.5" height="3.4" fill="#dcdcdc"/><rect x="217.5" y="347.4" width="1.1" height="1.3" fill="#c4c4c4"/>
<circle cx="233.8" cy="350.0" r="4.5" fill="#474747"/><circle cx="233.3" cy="349.5" r="3.4" fill="#575757"/><circle cx="234.1" cy="350.4" r="2.6" fill="#4e4e4e"/><rect x="232.5" y="348.5" width="1.5" height="3.4" fill="#dcdcdc"/><rect x="234.7" y="347.4" width="1.1" height="1.3" fill="#c4c4c4"/>
<circle cx="251.0" cy="350.0" r="4.5" fill="#474747"/><circle cx="250.5" cy="349.5" r="3.4" fill="#575757"/><circle cx="251.3" cy="350.4" r="2.6" fill="#4e4e4e"/><rect x="249.7" y="348.5" width="1.5" height="3.4" fill="#dcdcdc"/><rect x="251.9" y="347.4" width="1.1" height="1.3" fill="#c4c4c4"/>
<circle cx="268.2" cy="350.0" r="4.5" fill="#474747"/><circle cx="267.7" cy="349.5" r="3.4" fill="#575757"/><circle cx="268.5" cy="350.4" r="2.6" fill="#4e4e4e"/><rect x="266.9" y="348.5" width="1.5" height="3.4" fill="#dcdcdc"/><rect x="269.1" y="347.4" width="1.1" height="1.3" fill="#c4c4c4"/>
<circle cx="285.4" cy="350.0" r="4.5" fill="#474747"/><circle cx="284.9" cy="349.5" r="3.4" fill="#575757"/><circle cx="285.7" cy="350.4" r="2.6" fill="#4e4e4e"/><rect x="284.1" y="348.5" width="1.5" height="3.4" fill="#dcdcdc"/><rect x="286.3" y="347.4" width="1.1" height="1.3" fill="#c4c4c4"/>
<circle cx="302.6" cy="350.0" r="4.5" fill="#474747"/><circle cx="302.1" cy="349.5" r="3.4" fill="#575757"/><circle cx="302.9" cy="350.4" r="2.6" fill="#4e4e4e"/><rect x="301.3" y="348.5" width="1.5" height="3.4" fill="#dcdcdc"/><rect x="303.5" y="347.4" width="1.1" height="1.3" fill="#c4c4c4"/>
<path d="M349,304.90000000000003 L376.4,332.3 L349,359.7 L321.6,332.3 Z" fill="#3a3a3a"/>
<g transform="translate(349,332.3) rotate(0)"><path d="M-9.3,-10 C-10.8,-10 -11.2,-11.2 -10.5,-12.4 C-8,-17 -4.4,-22.4 -1.8,-25 C-0.8,-26.1 0.8,-26.1 1.8,-25 C4.4,-22.4 8,-17 10.5,-12.4 C11.2,-11.2 10.8,-10 9.3,-10 Z" fill="#f1f1f1" stroke="#a8a8a8" stroke-width="0.8"/><path d="M0,-20.4 L0,-14.4 M-1.6,-18.6 L0,-20.6 L1.6,-18.6" stroke="#555" stroke-width="0.7" fill="none"/></g>
<g transform="translate(349,332.3) rotate(90)"><path d="M-9.3,-10 C-10.8,-10 -11.2,-11.2 -10.5,-12.4 C-8,-17 -4.4,-22.4 -1.8,-25 C-0.8,-26.1 0.8,-26.1 1.8,-25 C4.4,-22.4 8,-17 10.5,-12.4 C11.2,-11.2 10.8,-10 9.3,-10 Z" fill="#f1f1f1" stroke="#a8a8a8" stroke-width="0.8"/><path d="M0,-20.4 L0,-14.4 M-1.6,-18.6 L0,-20.6 L1.6,-18.6" stroke="#555" stroke-width="0.7" fill="none"/></g>
<g transform="translate(349,332.3) rotate(180)"><path d="M-9.3,-10 C-10.8,-10 -11.2,-11.2 -10.5,-12.4 C-8,-17 -4.4,-22.4 -1.8,-25 C-0.8,-26.1 0.8,-26.1 1.8,-25 C4.4,-22.4 8,-17 10.5,-12.4 C11.2,-11.2 10.8,-10 9.3,-10 Z" fill="#f1f1f1" stroke="#a8a8a8" stroke-width="0.8"/><path d="M0,-20.4 L0,-14.4 M-1.6,-18.6 L0,-20.6 L1.6,-18.6" stroke="#555" stroke-width="0.7" fill="none"/></g>
<g transform="translate(349,332.3) rotate(270)"><path d="M-9.3,-10 C-10.8,-10 -11.2,-11.2 -10.5,-12.4 C-8,-17 -4.4,-22.4 -1.8,-25 C-0.8,-26.1 0.8,-26.1 1.8,-25 C4.4,-22.4 8,-17 10.5,-12.4 C11.2,-11.2 10.8,-10 9.3,-10 Z" fill="#f1f1f1" stroke="#a8a8a8" stroke-width="0.8"/><path d="M0,-20.4 L0,-14.4 M-1.6,-18.6 L0,-20.6 L1.6,-18.6" stroke="#555" stroke-width="0.7" fill="none"/></g>
<rect x="339.4" y="322.7" width="19.2" height="19.2" fill="#2c2b2b"/>
<circle cx="366.2" cy="301.4" r="9.3" fill="#1f1f1f"/><circle cx="366.2" cy="301.4" r="8.4" fill="#ecd40c"/><circle cx="366.2" cy="301.4" r="6.05" fill="#d8bc08"/><circle cx="365.70" cy="300.73" r="3.53" fill="#f6e230"/>
<path d="M369,299 v3 h-5 m1.6,-1.4 l-1.8,1.4 l1.8,1.4" stroke="#a08400" stroke-width="0.7" fill="none"/>
<rect x="333.1" y="149.80" width="37.4" height="17.0" rx="5.6" fill="#7c7c7c"/><rect x="333.8" y="150.50" width="36.0" height="15.6" rx="5.2" fill="#cdcdcd"/><rect x="335.4" y="152.20" width="14.2" height="12.2" rx="3.6" fill="#f4f4f4"/><rect x="355.2" y="152.20" width="13.0" height="12.2" rx="3.6" fill="#f4f4f4"/><rect x="349.5" y="149.60" width="5.8" height="17.8" rx="1.2" fill="#8a8a8a"/><rect x="350.1" y="150.00" width="4.6" height="17.0" rx="1" fill="#e6e6e6"/><rect x="352.2" y="150.00" width="0.7" height="17.0" fill="#a4a4a4"/><rect x="340.0" y="157.50" width="4.8" height="1.8" fill="#222"/><rect x="358.6" y="157.50" width="5" height="1.8" fill="#222"/><rect x="360.2" y="155.90" width="1.8" height="5" fill="#222"/>
<rect x="333.1" y="174.60" width="37.4" height="17.0" rx="5.6" fill="#7c7c7c"/><rect x="333.8" y="175.30" width="36.0" height="15.6" rx="5.2" fill="#cdcdcd"/><rect x="335.4" y="177.00" width="14.2" height="12.2" rx="3.6" fill="#f4f4f4"/><rect x="355.2" y="177.00" width="13.0" height="12.2" rx="3.6" fill="#f4f4f4"/><rect x="349.5" y="174.40" width="5.8" height="17.8" rx="1.2" fill="#8a8a8a"/><rect x="350.1" y="174.80" width="4.6" height="17.0" rx="1" fill="#e6e6e6"/><rect x="352.2" y="174.80" width="0.7" height="17.0" fill="#a4a4a4"/><rect x="340.0" y="182.30" width="4.8" height="1.8" fill="#222"/><rect x="358.6" y="182.30" width="5" height="1.8" fill="#222"/><rect x="360.2" y="180.70" width="1.8" height="5" fill="#222"/>
<rect x="333.1" y="198.10" width="37.4" height="17.0" rx="5.6" fill="#7c7c7c"/><rect x="333.8" y="198.80" width="36.0" height="15.6" rx="5.2" fill="#cdcdcd"/><rect x="335.4" y="200.50" width="14.2" height="12.2" rx="3.6" fill="#f4f4f4"/><rect x="355.2" y="200.50" width="13.0" height="12.2" rx="3.6" fill="#f4f4f4"/><rect x="349.5" y="197.90" width="5.8" height="17.8" rx="1.2" fill="#8a8a8a"/><rect x="350.1" y="198.30" width="4.6" height="17.0" rx="1" fill="#e6e6e6"/><rect x="352.2" y="198.30" width="0.7" height="17.0" fill="#a4a4a4"/><rect x="340.0" y="205.80" width="4.8" height="1.8" fill="#222"/><rect x="358.6" y="205.80" width="5" height="1.8" fill="#222"/><rect x="360.2" y="204.20" width="1.8" height="5" fill="#222"/>
<rect x="333.1" y="222.10" width="37.4" height="17.0" rx="5.6" fill="#7c7c7c"/><rect x="333.8" y="222.80" width="36.0" height="15.6" rx="5.2" fill="#cdcdcd"/><rect x="335.4" y="224.50" width="14.2" height="12.2" rx="3.6" fill="#f4f4f4"/><rect x="355.2" y="224.50" width="13.0" height="12.2" rx="3.6" fill="#f4f4f4"/><rect x="349.5" y="221.90" width="5.8" height="17.8" rx="1.2" fill="#8a8a8a"/><rect x="350.1" y="222.30" width="4.6" height="17.0" rx="1" fill="#e6e6e6"/><rect x="352.2" y="222.30" width="0.7" height="17.0" fill="#a4a4a4"/><rect x="340.0" y="229.80" width="4.8" height="1.8" fill="#222"/><rect x="358.6" y="229.80" width="5" height="1.8" fill="#222"/><rect x="360.2" y="228.20" width="1.8" height="5" fill="#222"/>
<rect x="333.1" y="246.30" width="37.4" height="17.0" rx="5.6" fill="#7c7c7c"/><rect x="333.8" y="247.00" width="36.0" height="15.6" rx="5.2" fill="#cdcdcd"/><rect x="335.4" y="248.70" width="14.2" height="12.2" rx="3.6" fill="#f4f4f4"/><rect x="355.2" y="248.70" width="13.0" height="12.2" rx="3.6" fill="#f4f4f4"/><rect x="349.5" y="246.10" width="5.8" height="17.8" rx="1.2" fill="#8a8a8a"/><rect x="350.1" y="246.50" width="4.6" height="17.0" rx="1" fill="#e6e6e6"/><rect x="352.2" y="246.50" width="0.7" height="17.0" fill="#a4a4a4"/><rect x="340.0" y="254.00" width="4.8" height="1.8" fill="#222"/><rect x="358.6" y="254.00" width="5" height="1.8" fill="#222"/><rect x="360.2" y="252.40" width="1.8" height="5" fill="#222"/>
<rect x="333.1" y="270.70" width="37.4" height="17.0" rx="5.6" fill="#7c7c7c"/><rect x="333.8" y="271.40" width="36.0" height="15.6" rx="5.2" fill="#cdcdcd"/><rect x="335.4" y="273.10" width="14.2" height="12.2" rx="3.6" fill="#f4f4f4"/><rect x="355.2" y="273.10" width="13.0" height="12.2" rx="3.6" fill="#f4f4f4"/><rect x="349.5" y="270.50" width="5.8" height="17.8" rx="1.2" fill="#8a8a8a"/><rect x="350.1" y="270.90" width="4.6" height="17.0" rx="1" fill="#e6e6e6"/><rect x="352.2" y="270.90" width="0.7" height="17.0" fill="#a4a4a4"/><rect x="340.0" y="278.40" width="4.8" height="1.8" fill="#222"/><rect x="358.6" y="278.40" width="5" height="1.8" fill="#222"/><rect x="360.2" y="276.80" width="1.8" height="5" fill="#222"/>
<rect x="338.2" y="130.6" width="19.4" height="10.8" fill="#3a3a3a" stroke="#c8c8c8" stroke-width="0.7"/>
<rect x="342.8" y="130.6" width="0.7" height="10.8" fill="#c8c8c8"/>
<rect x="347.6" y="130.6" width="0.7" height="10.8" fill="#c8c8c8"/>
<rect x="352.4" y="130.6" width="0.7" height="10.8" fill="#c8c8c8"/>
<rect x="338.2" y="137.4" width="19.4" height="0.6" fill="#c8c8c8"/>
<rect x="339.5" y="132.2" width="2.4" height="4.4" fill="#b8b8b8"/>
<rect x="339.7" y="138.6" width="2" height="2" fill="#8a8a8a"/>
<rect x="344.4" y="132.2" width="2.4" height="4.4" fill="#b8b8b8"/>
<rect x="344.6" y="138.6" width="2" height="2" fill="#8a8a8a"/>
<rect x="349.2" y="132.2" width="2.4" height="4.4" fill="#b8b8b8"/>
<rect x="349.4" y="138.6" width="2" height="2" fill="#8a8a8a"/>
<rect x="354.1" y="132.2" width="2.4" height="4.4" fill="#b8b8b8"/>
<rect x="354.2" y="138.6" width="2" height="2" fill="#8a8a8a"/>
<circle cx="298.3" cy="96.7" r="10.6" fill="#3c3c3c"/><circle cx="298.3" cy="96.7" r="9.7" fill="#7c7c7c"/><circle cx="298" cy="96.3" r="7.8" fill="#8e8e8e"/>
<path d="M293.6,102 L304.4,93" stroke="#b0b0b0" stroke-width="4.4" stroke-linecap="round"/>
<path d="M293.8,101.8 L304.2,93.2" stroke="#0c0c0c" stroke-width="3" stroke-linecap="round"/>
<circle cx="288" cy="86.3" r="2.2" fill="#444" stroke="#8a8a8a" stroke-width="0.8"/><rect x="287.5" y="85.1" width="1" height="2.4" fill="#8a8a8a"/>
<circle cx="310" cy="85.8" r="2.2" fill="#444" stroke="#8a8a8a" stroke-width="0.8"/><rect x="309.5" y="84.6" width="1" height="2.4" fill="#8a8a8a"/>
<circle cx="288.3" cy="108" r="2.2" fill="#444" stroke="#d0d0d0" stroke-width="0.8"/><rect x="287.8" y="106.8" width="1" height="2.4" fill="#d0d0d0"/>
<circle cx="310" cy="108" r="2.2" fill="#444" stroke="#d0d0d0" stroke-width="0.8"/><rect x="309.5" y="106.8" width="1" height="2.4" fill="#d0d0d0"/>
<circle cx="328.8" cy="92.6" r="10.8" fill="#2a2a2a"/><circle cx="328.8" cy="92.6" r="9.9" fill="#6ab080"/><circle cx="328.8" cy="92.6" r="9.2" fill="#167c3a"/><circle cx="328.8" cy="92.6" r="6.4" fill="#23a050"/>
<rect x="327.6" y="87.2" width="3" height="11.4" rx="1" fill="#0a0a0a"/>
<circle cx="356" cy="93.5" r="10.8" fill="#2a2a2a"/><circle cx="356" cy="93.5" r="10" fill="#c84a4a"/><circle cx="356" cy="93.5" r="8.4" fill="#a82626"/><circle cx="356" cy="93.5" r="6.6" fill="#861a1a"/><circle cx="356.5" cy="94" r="4.6" fill="#e2342a"/><circle cx="356" cy="93.2" r="2.2" fill="#ee5440"/>
<circle cx="392" cy="95.4" r="19.2" fill="#262626"/><circle cx="392" cy="95.4" r="18.2" fill="#f2de48"/><circle cx="392" cy="95.4" r="16.8" fill="#d08424"/><circle cx="392" cy="95.4" r="16.2" fill="#b43622"/><circle cx="392" cy="95.4" r="15.2" fill="#c9402a"/>
<circle cx="392" cy="95.4" r="10.6" fill="none" stroke="#8c2614" stroke-width="1.6" stroke-dasharray="15 7.2" transform="rotate(-75 392 95.4)"/>
<circle cx="391.8" cy="95.2" r="8.6" fill="#de4e32"/>
</g>
<polyline points="45,47.8 14,47.8 72,170" fill="none" stroke="#5b8ef8" stroke-width="1.9" stroke-linejoin="miter"/>
<polyline points="203,50.9 155,50.9 85.5,138.8" fill="none" stroke="#5b8ef8" stroke-width="1.9" stroke-linejoin="miter"/>
<polyline points="479.5,25.3 392.4,25.3 295.7,88.7" fill="none" stroke="#5b8ef8" stroke-width="1.9" stroke-linejoin="miter"/>
<polyline points="479.5,53 397,53 328,84.5" fill="none" stroke="#5b8ef8" stroke-width="1.9" stroke-linejoin="miter"/>
<polyline points="479.5,96.7 404,96.7" fill="none" stroke="#5b8ef8" stroke-width="1.9" stroke-linejoin="miter"/>
<polyline points="479.5,135 397,135 358.2,96.5" fill="none" stroke="#5b8ef8" stroke-width="1.9" stroke-linejoin="miter"/>
<polyline points="479.5,175.8 282.6,175.8" fill="none" stroke="#5b8ef8" stroke-width="1.9" stroke-linejoin="miter"/>
<polyline points="479.5,224.4 172,224.4" fill="none" stroke="#5b8ef8" stroke-width="1.9" stroke-linejoin="miter"/>
<polyline points="479.5,257.5 262.6,257.5" fill="none" stroke="#5b8ef8" stroke-width="1.9" stroke-linejoin="miter"/>
<circle cx="72" cy="170" r="4" fill="#fa3a64"/>
<circle cx="85.4" cy="138.8" r="4" fill="#fa3a64"/>
<circle cx="295.7" cy="88.7" r="4" fill="#fa3a64"/>
<circle cx="328" cy="84.5" r="4" fill="#fa3a64"/>
<circle cx="403.8" cy="96.9" r="4" fill="#fa3a64"/>
<circle cx="358.2" cy="96.5" r="4" fill="#fa3a64"/>
<circle cx="282.5" cy="176" r="4" fill="#fa3a64"/>
<circle cx="172" cy="224.1" r="4" fill="#fa3a64"/>
<circle cx="262.6" cy="257.2" r="4" fill="#fa3a64"/>
<rect x="44.7" y="37" width="87.60" height="28.80" fill="#5e8ff8"/><text class="cjk" x="45.7" y="58.25" font-size="16.6" fill="#fff" textLength="83" lengthAdjust="spacingAndGlyphs">窗口选择键</text>
<rect x="202.5" y="34.8" width="64.50" height="29.00" fill="#5e8ff8"/><text class="cjk" x="208.3" y="55.55" font-size="16.6" fill="#fff" textLength="49.8" lengthAdjust="spacingAndGlyphs">退出键</text>
<rect x="479.3" y="10" width="110.30" height="28.60" fill="#5e8ff8"/><text class="cjk" x="485.1" y="30.55" font-size="16.6" fill="#fff" textLength="99.6" lengthAdjust="spacingAndGlyphs">模式选择开关</text>
<rect x="479.3" y="41.2" width="64.60" height="28.60" fill="#5e8ff8"/><text class="cjk" x="485.9" y="61.35" font-size="16.6" fill="#fff" textLength="49.8" lengthAdjust="spacingAndGlyphs">驱动开</text>
<rect x="479.3" y="85" width="45.30" height="29.10" fill="#5e8ff8"/><text class="cjk" x="483.2" y="106.2" font-size="16.6" fill="#fff" textLength="33.2" lengthAdjust="spacingAndGlyphs">急停</text>
<rect x="478.7" y="121.2" width="64.20" height="28.60" fill="#5e8ff8"/><text class="cjk" x="485.5" y="142.75" font-size="16.6" fill="#fff" textLength="49.8" lengthAdjust="spacingAndGlyphs">驱动关</text>
<rect x="479.4" y="161.1" width="64.50" height="28.60" fill="#5e8ff8"/><text class="cjk" x="485.7" y="181.45" font-size="16.6" fill="#fff" textLength="49.8" lengthAdjust="spacingAndGlyphs">状态窗</text>
<rect x="479.4" y="209.1" width="64.50" height="28.60" fill="#5e8ff8"/><text class="cjk" x="485.6" y="229.65" font-size="16.6" fill="#fff" textLength="49.8" lengthAdjust="spacingAndGlyphs">程序窗</text>
<rect x="479.4" y="244.2" width="64.50" height="28.60" fill="#5e8ff8"/><text class="cjk" x="485.8" y="264.75" font-size="16.6" fill="#fff" textLength="49.8" lengthAdjust="spacingAndGlyphs">信息窗</text>
<circle cx="25.2" cy="22.9" r="20.4" fill="url(#bic1)"/>
<circle cx="25.2" cy="22.9" r="19.6" fill="none" stroke="#cfe8ff" stroke-width="1.2" opacity="0.55"/>
<circle cx="24.6" cy="22.7" r="15.8" fill="url(#bic2)"/>
<path d="M21.4,27.4 L17.7,27.4 L17.7,14.8 L28.2,14.8 L28.2,18" fill="none" stroke="#16265a" stroke-width="1.3"/>
<rect x="21.5" y="18.3" width="10.6" height="13" rx="0.6" fill="url(#bic3)" stroke="#16265a" stroke-width="1.3"/>
<circle cx="174.5" cy="27.5" r="20.6" fill="url(#goldo)"/>
<circle cx="174.5" cy="27.5" r="20.1" fill="none" stroke="#e2bc00" stroke-width="1" opacity="0.8"/>
<circle cx="174.1" cy="26.9" r="16" fill="url(#goldi)"/>
<text x="173.8" y="32.3" font-size="15.5" font-weight="bold" fill="#2c1008" text-anchor="middle" textLength="20" lengthAdjust="spacingAndGlyphs">ESC</text>
</svg>
</body></html>
